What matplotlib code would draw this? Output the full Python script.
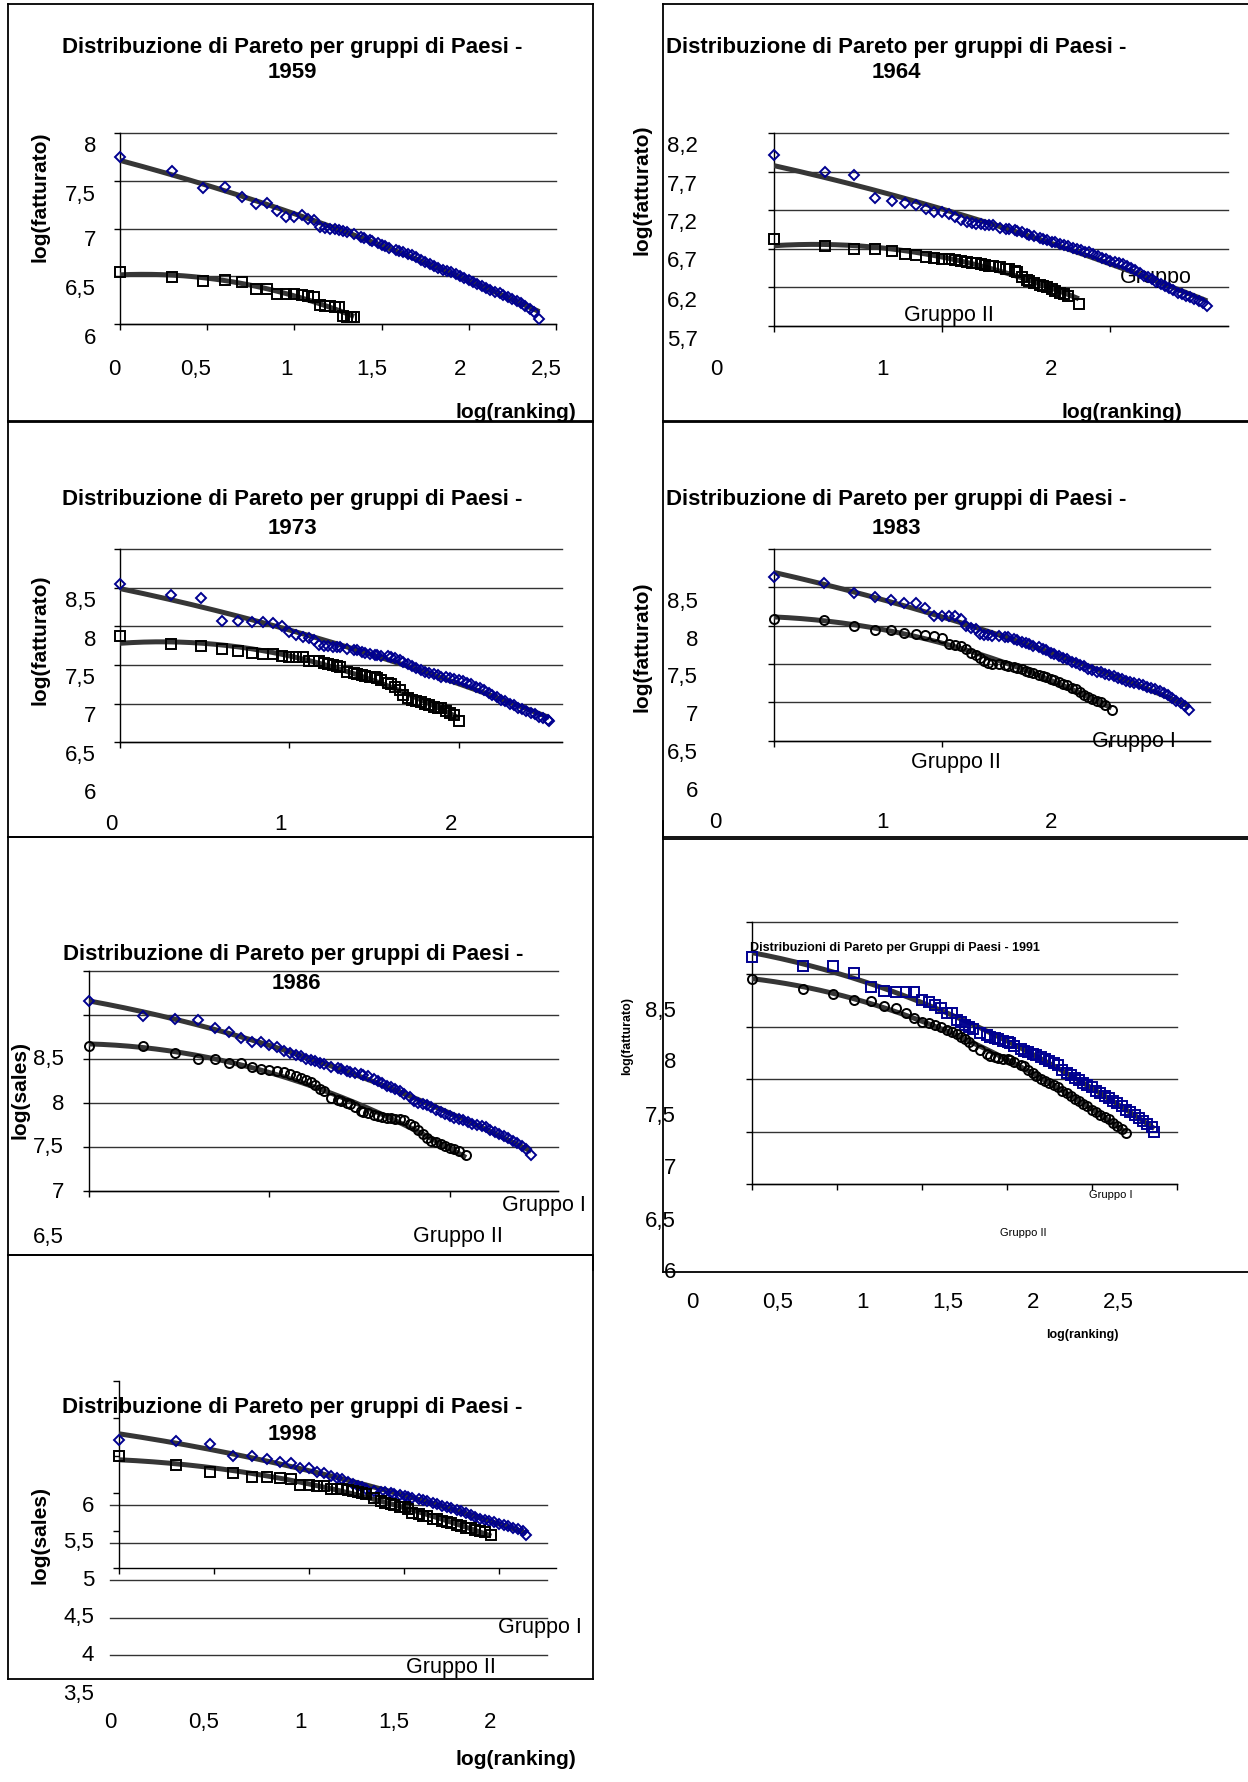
import numpy as np
import matplotlib
matplotlib.use("Agg")
import matplotlib.pyplot as plt
from matplotlib.lines import Line2D

plt.rcParams['font.family'] = ['Liberation Sans', 'DejaVu Sans']

W, H = 1248, 1783
BLUE = '#000090'
TREND = '#363636'
TITLE = "Distribuzione di Pareto per gruppi di Paesi -"

# ranks 1..20 are read one by one, the dense tail at these ranks
TOP = list(range(1, 21))
TAIL = [22, 24, 25, 27, 28, 30, 32, 33, 35, 38, 40, 42, 45, 47, 50, 53, 56, 60, 63, 67, 71, 75, 79, 84, 89, 94,
        100, 106, 112, 119, 126, 133, 141, 150, 158, 168, 178, 188, 200, 211, 224, 237, 251, 266, 282, 299,
        316, 335, 355, 376]


def ranks_upto(n):
    return TOP + [r for r in TAIL if r < n - 5] + [n]


# 1959
n59_1 = 254
v59_1 = [7.75, 7.60, 7.42, 7.43, 7.33, 7.26, 7.27, 7.18, 7.12, 7.12, 7.14, 7.10, 7.09, 7.02, 7.01, 7.00, 6.99, 6.98, 6.97, 6.96,
         6.94, 6.91, 6.90, 6.88, 6.87, 6.85, 6.83, 6.82, 6.80, 6.78, 6.76, 6.75, 6.73, 6.72, 6.70, 6.67, 6.65, 6.63, 6.61, 6.59,
         6.57, 6.56, 6.54, 6.52, 6.50, 6.48, 6.46, 6.44, 6.42, 6.40, 6.38, 6.36, 6.34, 6.32, 6.30, 6.28, 6.26, 6.24, 6.22, 6.19,
         6.16, 6.13, 6.05]
r59_2 = list(range(1, 23))
v59_2 = [6.54, 6.49, 6.45, 6.46, 6.44, 6.37, 6.37, 6.31, 6.31, 6.31, 6.30, 6.29, 6.28, 6.20, 6.19, 6.19, 6.18, 6.18, 6.08, 6.07, 6.07, 6.07]

# 1964
n64_1 = 377
v64_1 = [7.91, 7.69, 7.66, 7.36, 7.32, 7.29, 7.27, 7.21, 7.18, 7.18, 7.15, 7.11, 7.075, 7.05, 7.03, 7.02, 7.02, 7.01, 7.00, 7.00,
         6.97, 6.96, 6.95, 6.94, 6.93, 6.91, 6.89, 6.88, 6.86, 6.84, 6.83, 6.81, 6.79, 6.78, 6.76, 6.75, 6.73, 6.71, 6.69, 6.68,
         6.66, 6.65, 6.63, 6.60, 6.58, 6.56, 6.54, 6.52, 6.51, 6.50, 6.48, 6.45, 6.42, 6.38, 6.35, 6.33, 6.30, 6.27, 6.24, 6.22,
         6.19, 6.16, 6.13, 6.11, 6.09, 6.07, 6.05, 6.02, 5.99, 5.95]
n64_2 = 65
v64_2 = [6.825, 6.73, 6.69, 6.69, 6.665, 6.63, 6.62, 6.585, 6.58, 6.565, 6.56, 6.555, 6.545, 6.52, 6.515, 6.51, 6.50, 6.49, 6.48, 6.47,
         6.46, 6.44, 6.43, 6.41, 6.40, 6.33, 6.29, 6.28, 6.26, 6.23, 6.22, 6.20, 6.17, 6.15, 6.13, 6.11, 6.08, 5.98]

# 1973
n73_1 = 342
v73_1 = [8.55, 8.41, 8.36, 8.07, 8.07, 8.06, 8.05, 8.04, 8.01, 7.93, 7.89, 7.86, 7.85, 7.82, 7.76, 7.74, 7.74, 7.73, 7.73, 7.73,
         7.71, 7.70, 7.69, 7.67, 7.66, 7.64, 7.63, 7.63, 7.62, 7.61, 7.60, 7.59, 7.56, 7.54, 7.51, 7.49, 7.46, 7.43, 7.41, 7.40,
         7.38, 7.37, 7.35, 7.34, 7.33, 7.32, 7.31, 7.29, 7.27, 7.25, 7.22, 7.20, 7.17, 7.14, 7.11, 7.08, 7.05, 7.03, 7.00, 6.98,
         6.95, 6.93, 6.90, 6.88, 6.86, 6.83, 6.81, 6.79, 6.78]
n73_2 = 101
v73_2 = [7.88, 7.77, 7.74, 7.71, 7.68, 7.66, 7.64, 7.64, 7.62, 7.60, 7.60, 7.60, 7.55, 7.55, 7.55, 7.52, 7.51, 7.50, 7.49, 7.48,
         7.41, 7.39, 7.38, 7.37, 7.36, 7.35, 7.34, 7.33, 7.30, 7.27, 7.25, 7.22, 7.17, 7.11, 7.07, 7.05, 7.03, 7.02, 7.00, 6.98,
         6.96, 6.95, 6.94, 6.91, 6.88, 6.85, 6.78]

# 1983
n83_1 = 298
v83_1 = [8.63, 8.56, 8.43, 8.37, 8.33, 8.29, 8.29, 8.23, 8.13, 8.12, 8.13, 8.12, 8.09, 7.99, 7.97, 7.96, 7.89, 7.88, 7.88, 7.87,
         7.86, 7.85, 7.85, 7.83, 7.81, 7.79, 7.77, 7.76, 7.74, 7.72, 7.70, 7.68, 7.65, 7.63, 7.60, 7.58, 7.56, 7.53, 7.51, 7.49,
         7.47, 7.44, 7.42, 7.40, 7.39, 7.37, 7.36, 7.34, 7.32, 7.30, 7.28, 7.27, 7.25, 7.24, 7.22, 7.20, 7.19, 7.17, 7.15, 7.12,
         7.09, 7.06, 7.02, 6.99, 6.95, 6.90]
n83_2 = 103
v83_2 = [8.09, 8.07, 7.99, 7.95, 7.95, 7.91, 7.89, 7.88, 7.86, 7.84, 7.76, 7.75, 7.73, 7.70, 7.65, 7.62, 7.58, 7.54, 7.51, 7.50,
         7.50, 7.49, 7.48, 7.46, 7.45, 7.43, 7.41, 7.40, 7.38, 7.36, 7.35, 7.33, 7.31, 7.29, 7.26, 7.24, 7.22, 7.19, 7.17, 7.13,
         7.10, 7.07, 7.04, 7.02, 7.00, 6.96, 6.90]

# 1986
n86_1 = 283
v86_1 = [9.16, 8.98, 8.95, 8.94, 8.85, 8.80, 8.74, 8.69, 8.69, 8.66, 8.63, 8.59, 8.56, 8.54, 8.53, 8.50, 8.48, 8.47, 8.45, 8.44,
         8.41, 8.39, 8.38, 8.36, 8.35, 8.34, 8.33, 8.32, 8.30, 8.27, 8.25, 8.22, 8.19, 8.18, 8.16, 8.13, 8.10, 8.06, 8.02, 8.00,
         7.99, 7.97, 7.95, 7.92, 7.90, 7.87, 7.85, 7.83, 7.82, 7.80, 7.78, 7.76, 7.75, 7.73, 7.72, 7.69, 7.67, 7.65, 7.62, 7.60,
         7.57, 7.54, 7.51, 7.47, 7.41]
n86_2 = 123
v86_2 = [8.64, 8.64, 8.56, 8.50, 8.50, 8.45, 8.45, 8.41, 8.38, 8.375, 8.36, 8.345, 8.33, 8.30, 8.28, 8.26, 8.23, 8.20, 8.16, 8.13,
         8.05, 8.03, 8.02, 8.00, 7.98, 7.95, 7.91, 7.90, 7.88, 7.86, 7.85, 7.84, 7.83, 7.83, 7.82, 7.81, 7.80, 7.76, 7.73, 7.69,
         7.64, 7.60, 7.57, 7.55, 7.53, 7.51, 7.49, 7.47, 7.45, 7.41]

# 1991
n91_1 = 233
v91_1 = [9.16, 9.08, 9.08, 9.01, 8.88, 8.84, 8.83, 8.83, 8.83, 8.75, 8.73, 8.71, 8.68, 8.63, 8.63, 8.56, 8.54, 8.52, 8.50, 8.48,
         8.44, 8.42, 8.40, 8.39, 8.38, 8.36, 8.35, 8.34, 8.32, 8.29, 8.27, 8.26, 8.24, 8.23, 8.21, 8.19, 8.17, 8.15, 8.13, 8.09,
         8.06, 8.04, 8.01, 7.99, 7.96, 7.94, 7.92, 7.89, 7.87, 7.84, 7.82, 7.79, 7.77, 7.74, 7.71, 7.69, 7.66, 7.63, 7.60, 7.57,
         7.54, 7.50]
n91_2 = 158
v91_2 = [8.95, 8.86, 8.81, 8.75, 8.74, 8.70, 8.68, 8.63, 8.58, 8.54, 8.53, 8.52, 8.50, 8.47, 8.45, 8.43, 8.40, 8.38, 8.35, 8.32,
         8.28, 8.24, 8.22, 8.21, 8.20, 8.195, 8.19, 8.18, 8.16, 8.13, 8.12, 8.09, 8.06, 8.03, 8.00, 7.98, 7.96, 7.94, 7.92, 7.89,
         7.87, 7.84, 7.81, 7.79, 7.76, 7.74, 7.71, 7.69, 7.66, 7.64, 7.62, 7.58, 7.55, 7.52, 7.49]

# 1998
n98_1 = 139
v98_1 = [6.87, 6.85, 6.81, 6.66, 6.66, 6.62, 6.58, 6.56, 6.50, 6.49, 6.44, 6.43, 6.39, 6.36, 6.35, 6.31, 6.28, 6.26, 6.24, 6.22,
         6.19, 6.18, 6.17, 6.16, 6.15, 6.13, 6.12, 6.11, 6.10, 6.08, 6.07, 6.06, 6.03, 6.01, 5.99, 5.97, 5.96, 5.94, 5.92, 5.89,
         5.87, 5.84, 5.82, 5.80, 5.79, 5.77, 5.75, 5.74, 5.72, 5.70, 5.68, 5.65, 5.60]
n98_2 = 91
v98_2 = [6.66, 6.53, 6.44, 6.43, 6.38, 6.37, 6.36, 6.35, 6.27, 6.27, 6.26, 6.25, 6.22, 6.22, 6.21, 6.20, 6.19, 6.18, 6.16, 6.15,
         6.10, 6.06, 6.03, 6.01, 6.00, 5.98, 5.97, 5.95, 5.90, 5.88, 5.86, 5.85, 5.82, 5.81, 5.79, 5.77, 5.76, 5.74, 5.72, 5.70,
         5.69, 5.67, 5.66, 5.64, 5.60]

fig = plt.figure(figsize=(W / 100, H / 100), dpi=100, facecolor='white')


def fxy(x, y):
    return x / W, 1 - y / H


def text(x, y, s, size=16, weight='normal', rot=0, ha='center', ax=None, z=3):
    X, Y = fxy(x, y)
    tgt = ax if ax is not None else fig
    tgt.text(X, Y, s, fontsize=size, fontweight=weight, rotation=rot, ha=ha, va='center',
             transform=fig.transFigure, zorder=z, clip_on=False)


def line(x0, y0, x1, y1, lw=1.3):
    X0, Y0 = fxy(x0, y0)
    X1, Y1 = fxy(x1, y1)
    fig.add_artist(Line2D([X0, X1], [Y0, Y1], color='black', lw=lw, transform=fig.transFigure))


def make_ax(l, t, r, b, xlim, ylim, yticks, xticks, grid=True):
    ax = fig.add_axes([l / W, 1 - b / H, (r - l) / W, (b - t) / H])
    ax.set_xlim(*xlim)
    ax.set_ylim(*ylim)
    ax.set_xticks(xticks)
    ax.set_yticks(yticks)
    ax.tick_params(direction='out', length=4, width=1, labelleft=False, labelbottom=False, colors='black')
    if grid:
        ax.grid(axis='y', color='#333333', lw=1)
        for gl in ax.get_ygridlines():
            gl.set_clip_on(False)
    ax.set_axisbelow(True)
    for s in ['top', 'right']:
        ax.spines[s].set_visible(False)
    for s in ['left', 'bottom']:
        ax.spines[s].set_linewidth(1)
    ax.patch.set_alpha(0)
    return ax


def series(ax, ranks, vals, marker, color, ms):
    ranks = np.asarray(ranks, dtype=float)
    assert len(ranks) == len(vals), (len(ranks), len(vals))
    x = np.log10(ranks)
    y = np.array(vals)
    coef = np.polyfit(x, y, 2)
    xs = np.linspace(x.min(), x.max(), 200)
    ax.plot(xs, np.polyval(coef, xs), color=TREND, lw=3.6, solid_capstyle='butt', zorder=3)
    ax.plot(x, y, ls='none', marker=marker, mfc='none', mec=color, mew=1.4, ms=ms,
            zorder=4, clip_on=False)


def ylabels(xr, labels, ys, size=16):
    for s, y in zip(labels, ys):
        text(xr, y, s, size=size, ha='right')


def xlabels(y, labels, xs, size=16):
    for s, x in zip(labels, xs):
        text(x, y, s, size=size)


def title(x, y1, y2, year):
    text(x, y1, TITLE, size=16, weight='bold')
    text(x, y2, year, size=16, weight='bold')


# ---------------- 1959
line(8, 5, 593, 5); line(8, 5, 8, 423); line(593, 5, 593, 423); line(8, 423, 593, 423)
ax = make_ax(120, 134, 556, 325, (0, 2.5), (6, 8), [6, 6.5, 7, 7.5, 8], [0, 0.5, 1, 1.5, 2, 2.5])
series(ax, ranks_upto(n59_1), v59_1, 'D', BLUE, 5.5)
series(ax, r59_2, v59_2, 's', 'black', 6.5)
ylabels(96, ['8', '7,5', '7', '6,5', '6'], [146, 196, 241, 290, 339])
xlabels(370, ['0', '0,5', '1', '1,5', '2', '2,5'], [114, 196, 286, 372, 460, 546])
title(292, 47, 73, '1959')
text(516, 412, 'log(ranking)', size=15, weight='bold')
text(40, 197, 'log(fatturato)', size=15, weight='bold', rot=90)

# ---------------- 1964
line(663, 5, 1248, 5); line(663, 5, 663, 423); line(663, 423, 1248, 423)
ax = make_ax(774, 134, 1228, 326.7, (0, 2.7), (5.7, 8.2), [5.7, 6.2, 6.7, 7.2, 7.7, 8.2], [0, 1, 2])
text(1156, 277, 'Gruppo', size=15.5, ax=ax, z=1)
text(949, 315, 'Gruppo II', size=15.5, ax=ax, z=1)
series(ax, ranks_upto(n64_1), v64_1, 'D', BLUE, 5.5)
series(ax, ranks_upto(n64_2), v64_2, 's', 'black', 6.5)
ylabels(698, ['8,2', '7,7', '7,2', '6,7', '6,2', '5,7'], [146.7, 185, 224, 262, 301.7, 340.7])
xlabels(370, ['0', '1', '2'], [716, 883, 1051])
title(896, 47, 73, '1964')
text(1122, 413, 'log(ranking)', size=15, weight='bold')
text(642, 190, 'log(fatturato)', size=15, weight='bold', rot=90)

# ---------------- 1973
line(8, 422, 593, 422); line(8, 422, 8, 838); line(593, 422, 593, 838); line(8, 838, 593, 838)
ax = make_ax(120, 550, 562, 743.3, (0, 2.61), (6.5, 9), [6.5, 7, 7.5, 8, 8.5, 9], [0, 1, 2])
series(ax, ranks_upto(n73_1), v73_1, 'D', BLUE, 5.5)
series(ax, ranks_upto(n73_2), v73_2, 's', 'black', 6.5)
ylabels(96, ['8,5', '8', '7,5', '7', '6,5', '6'], [601.7, 640, 678.3, 716.7, 755, 793.3])
xlabels(825, ['0', '1', '2'], [111, 281, 451])
title(292, 500, 528, '1973')
text(40, 640, 'log(fatturato)', size=15, weight='bold', rot=90)

# ---------------- 1983
line(663, 422, 1248, 422); line(663, 422, 663, 838); line(663, 838, 1248, 838)
ax = make_ax(774, 550, 1210, 741.7, (0, 2.6), (6.5, 9), [6.5, 7, 7.5, 8, 8.5, 9], [0, 1, 2])
text(1134, 742, 'Gruppo I', size=15.5, ax=ax, z=1)
text(956, 763, 'Gruppo II', size=15.5, ax=ax, z=1)
series(ax, ranks_upto(n83_1), v83_1, 'D', BLUE, 5.5)
series(ax, ranks_upto(n83_2), v83_2, 'o', 'black', 6.5)
ylabels(698, ['8,5', '8', '7,5', '7', '6,5', '6'], [602.7, 640, 678, 715.7, 754, 791.7])
xlabels(823, ['0', '1', '2'], [715, 882, 1051])
title(896, 500, 528, '1983')
text(642, 647, 'log(fatturato)', size=15, weight='bold', rot=90)

# ---------------- 1986
line(8, 838, 593, 838); line(8, 838, 8, 1256); line(593, 838, 593, 1271); line(8, 1256, 593, 1256)
ax = make_ax(89, 971.7, 558, 1191.7, (0, 2.6), (7, 9.5), [7, 7.5, 8, 8.5, 9, 9.5], [0, 1, 2])
text(544, 1205, 'Gruppo I', size=15.5, ax=ax, z=1)
text(458, 1237, 'Gruppo II', size=15.5, ax=ax, z=1)
series(ax, ranks_upto(n86_1), v86_1, 'D', BLUE, 5.5)
series(ax, ranks_upto(n86_2), v86_2, 'o', 'black', 6.5)
ylabels(64, ['8,5', '8', '7,5', '7', '6,5'], [1060, 1104, 1148, 1192, 1238])
text(293, 955, TITLE, size=16, weight='bold')
text(296, 984, '1986', size=16, weight='bold')
text(20, 1090, 'log(sales)', size=15, weight='bold', rot=90)

# ---------------- 1991
line(663, 840, 1248, 840); line(663, 822, 663, 1273); line(663, 1273, 1248, 1273)
ax = make_ax(752, 922.7, 1177, 1185, (0, 2.5), (7, 9.5), [7, 7.5, 8, 8.5, 9, 9.5], [0, 0.5, 1, 1.5, 2, 2.5])
text(1111, 1195, 'Gruppo I', size=8, ax=ax, z=1)
text(1023, 1233, 'Gruppo II', size=8, ax=ax, z=1)
series(ax, ranks_upto(n91_1), v91_1, 's', BLUE, 7.5)
series(ax, ranks_upto(n91_2), v91_2, 'o', 'black', 6.5)
ylabels(676, ['8,5', '8', '7,5', '7', '6,5', '6'], [1011.7, 1063, 1116.7, 1168, 1221.7, 1273])
xlabels(1303, ['0', '0,5', '1', '1,5', '2', '2,5'], [692, 778, 863, 948, 1033, 1118])
text(750, 948, 'Distribuzioni di Pareto per Gruppi di Paesi - 1991', size=9, weight='bold', ha='left')
text(627, 1036, 'log(fatturato)', size=9, weight='bold', rot=90)
text(1082, 1335, 'log(ranking)', size=9, weight='bold')

# ---------------- 1998
line(8, 1256, 593, 1256); line(8, 1256, 8, 1680); line(593, 1256, 593, 1680); line(8, 1680, 593, 1680)
gax = make_ax(110, 1506, 547, 1656, (0, 1), (4, 6), [4, 4.5, 5, 5.5, 6], [])
gax.tick_params(length=0)
for s in ['left', 'bottom']:
    gax.spines[s].set_visible(False)
k = 0.5 / 37.5
lo, hi = 6 - (1569.3 - 1506) * k, 6 + (1506 - 1381.7) * k
ax = make_ax(119, 1381.7, 556, 1569.3, (0, 2.3), (lo, hi), [lo + 0.5 * i for i in range(6)],
             [0, 0.5, 1, 1.5, 2], grid=False)
series(ax, ranks_upto(n98_1), v98_1, 'D', BLUE, 5.5)
series(ax, ranks_upto(n98_2), v98_2, 's', 'black', 6.5)
text(540, 1628, 'Gruppo I', size=15.5, ax=ax, z=1)
text(451, 1668, 'Gruppo II', size=15.5, ax=ax, z=1)
ylabels(94, ['6', '5,5', '5', '4,5', '4', '3,5'], [1506, 1543, 1581, 1618, 1656, 1695])
xlabels(1723, ['0', '0,5', '1', '1,5', '2'], [110, 204, 300, 394, 490])
title(292, 1407, 1435, '1998')
text(516, 1760, 'log(ranking)', size=15, weight='bold')
text(40, 1535, 'log(sales)', size=15, weight='bold', rot=90)

fig.savefig('out.png', dpi=100, facecolor='white')
